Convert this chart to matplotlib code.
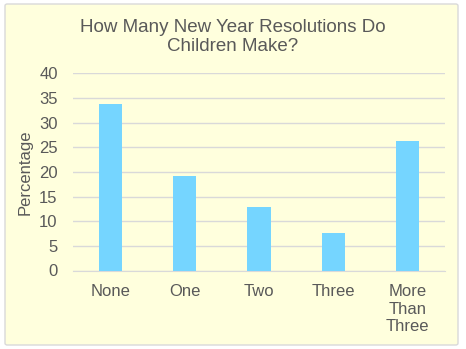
import matplotlib.pyplot as plt
from matplotlib.patches import FancyBboxPatch

categories = ['None', 'One', 'Two', 'Three', 'More\nThan\nThree']
values = [33.8, 19.2, 12.9, 7.6, 26.3]

plt.rcParams['font.family'] = ['Liberation Sans', 'DejaVu Sans']
txt = '#595959'

fig = plt.figure(figsize=(4.66, 3.49), dpi=100)
fig.patch.set_facecolor('white')
# chart area box with light border, kept behind the axes
box = FancyBboxPatch((5/466, 4/349), 453/466, 341/349, boxstyle='round,pad=0,rounding_size=0.005',
                     transform=fig.transFigure, facecolor='#FFFFDD', edgecolor='#D9D9D9', lw=1, zorder=-10)
fig.patches.append(box)

ax = fig.add_axes([73/466, 1 - 270.5/349, 372/466, 197.2/349])
ax.set_facecolor('none')
ax.bar(range(len(categories)), values, width=0.31, color='#75D5FF', zorder=3)
ax.set_xlim(-0.5, len(categories) - 0.5)
ax.set_ylim(0, 40)
ax.set_yticks(range(0, 41, 5))
ax.set_xticks(range(len(categories)))
ax.set_xticklabels(categories, linespacing=1.2)
ax.yaxis.grid(True, color='#D9D9D9', lw=1, zorder=0)
for s in ['top', 'right', 'left']:
    ax.spines[s].set_visible(False)
ax.spines['bottom'].set_color('#D9D9D9')
ax.tick_params(length=0, labelsize=12, colors=txt)
ax.tick_params(axis='x', pad=10)
ax.tick_params(axis='y', pad=11)
ax.set_ylabel('Percentage', fontsize=12, color=txt, labelpad=5)

fig.text(0.5, 1 - 37/349, 'How Many New Year Resolutions Do\nChildren Make?', ha='center', va='center',
         fontsize=13.5, color=txt, linespacing=1.1)

fig.savefig('out.png', dpi=100)
